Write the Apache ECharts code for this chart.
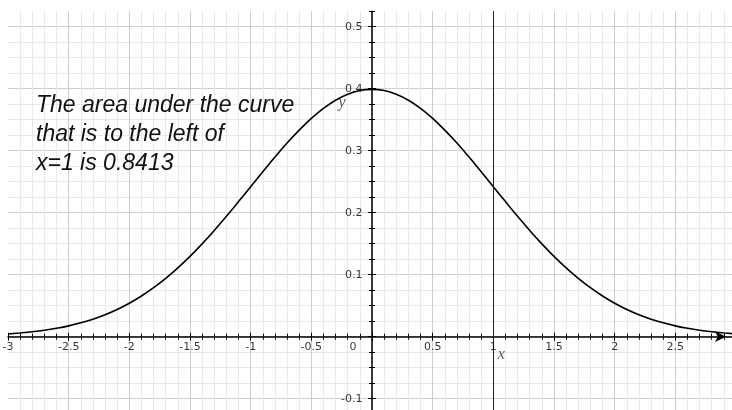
<!DOCTYPE html>
<html>
<head>
<meta charset="utf-8">
<script src="https://cdn.jsdelivr.net/npm/echarts@6/dist/echarts.min.js"></script>
<style>
  html, body { margin: 0; padding: 0; background: #ffffff; }
  #chart { width: 732px; height: 410px; }
</style>
</head>
<body>
<div id="chart"></div>
<script>
// Standard normal density curve, sampled every 0.1 on [-3, 3]
const xValues = [
  -3.0, -2.9, -2.8, -2.7, -2.6, -2.5, -2.4, -2.3, -2.2, -2.1,
  -2.0, -1.9, -1.8, -1.7, -1.6, -1.5, -1.4, -1.3, -1.2, -1.1,
  -1.0, -0.9, -0.8, -0.7, -0.6, -0.5, -0.4, -0.3, -0.2, -0.1,
  0.0,
  0.1, 0.2, 0.3, 0.4, 0.5, 0.6, 0.7, 0.8, 0.9, 1.0,
  1.1, 1.2, 1.3, 1.4, 1.5, 1.6, 1.7, 1.8, 1.9, 2.0,
  2.1, 2.2, 2.3, 2.4, 2.5, 2.6, 2.7, 2.8, 2.9, 3.0
];
const densityValues = [
  0.0044, 0.0060, 0.0079, 0.0104, 0.0136, 0.0175, 0.0224, 0.0283, 0.0355, 0.0440,
  0.0540, 0.0656, 0.0790, 0.0940, 0.1109, 0.1295, 0.1497, 0.1714, 0.1942, 0.2179,
  0.2420, 0.2661, 0.2897, 0.3123, 0.3332, 0.3521, 0.3683, 0.3814, 0.3910, 0.3970,
  0.3989,
  0.3970, 0.3910, 0.3814, 0.3683, 0.3521, 0.3332, 0.3123, 0.2897, 0.2661, 0.2420,
  0.2179, 0.1942, 0.1714, 0.1497, 0.1295, 0.1109, 0.0940, 0.0790, 0.0656, 0.0540,
  0.0440, 0.0355, 0.0283, 0.0224, 0.0175, 0.0136, 0.0104, 0.0079, 0.0060, 0.0044
];

// Tick labels on both axes
const xTickLabels = [-3, -2.5, -2, -1.5, -1, -0.5, 0, 0.5, 1, 1.5, 2, 2.5, 3];
const yTickLabels = [-0.1, 0.1, 0.2, 0.3, 0.4, 0.5];

// Vertical marker at x = 1
const markerX = 1;

// Axis name letters and the points they sit next to
const axisNames = ['x', 'y'];
const axisNameX = [1, 0];
const axisNameY = [0, 0.4];

// Annotation text
const noteLines = ['The area under the curve', 'that is to the left of', 'x=1 is 0.8413'];

const X_MIN = -3, X_MAX = 3;
const Y_MIN = -0.125, Y_MAX = 0.525;
const GRID_MINOR = '#e9e9e9';
const GRID_MAJOR = '#cdcdcd';
const INK = '#000000';
const LABEL_FONT = { fontFamily: 'DejaVu Sans', fontSize: 11, color: '#000000' };
const CLEAR = 'rgba(0,0,0,0)';

function hiddenLine() {
  return { show: false, onZero: true, onZeroAxisIndex: 0 };
}

// x axes: [0] line, minor ticks below, grid; [1] minor ticks above;
// [2] major ticks below; [3] major ticks above
const xAxes = [
  {
    type: 'value', min: X_MIN, max: X_MAX, interval: 0.1, position: 'bottom',
    axisLine: {
      show: true, onZero: true, onZeroAxisIndex: 0,
      lineStyle: { color: INK, width: 1.5 },
      symbol: ['none', 'arrow'], symbolSize: [8, 11], symbolOffset: [0, -10]
    },
    axisTick: { show: true, length: 3, lineStyle: { color: INK, width: 1 } },
    axisLabel: { show: false },
    splitLine: {
      show: true, showMinLine: false, showMaxLine: false,
      lineStyle: { color: [GRID_MINOR, GRID_MINOR, GRID_MINOR, GRID_MINOR, GRID_MAJOR], width: 1 }
    }
  },
  {
    type: 'value', min: X_MIN, max: X_MAX, interval: 0.1, position: 'top',
    axisLine: hiddenLine(),
    axisTick: { show: true, length: 3, lineStyle: { color: INK, width: 1 } },
    axisLabel: { show: false }, splitLine: { show: false }
  },
  {
    type: 'value', min: X_MIN, max: X_MAX, interval: 0.1, position: 'bottom',
    axisLine: hiddenLine(),
    axisTick: { show: true, length: 4, customValues: xTickLabels, lineStyle: { color: INK, width: 1 } },
    axisLabel: { show: false }, splitLine: { show: false }
  },
  {
    type: 'value', min: X_MIN, max: X_MAX, interval: 0.1, position: 'top',
    axisLine: hiddenLine(),
    axisTick: { show: true, length: 4, customValues: xTickLabels, lineStyle: { color: INK, width: 1 } },
    axisLabel: { show: false }, splitLine: { show: false }
  }
];

const yMajorTicks = [-0.1, 0, 0.1, 0.2, 0.3, 0.4, 0.5];

const yAxes = [
  {
    type: 'value', min: Y_MIN, max: Y_MAX, interval: 0.025, position: 'left',
    axisLine: { show: true, onZero: true, onZeroAxisIndex: 0, lineStyle: { color: INK, width: 1.5 } },
    axisTick: { show: true, length: 3, lineStyle: { color: INK, width: 1 } },
    axisLabel: { show: false },
    splitLine: {
      show: true, showMaxLine: false,
      lineStyle: { color: [GRID_MINOR, GRID_MAJOR, GRID_MINOR, GRID_MINOR], width: 1 }
    }
  },
  {
    type: 'value', min: Y_MIN, max: Y_MAX, interval: 0.025, position: 'right',
    axisLine: hiddenLine(),
    axisTick: { show: true, length: 3, lineStyle: { color: INK, width: 1 } },
    axisLabel: { show: false }, splitLine: { show: false }
  },
  {
    type: 'value', min: Y_MIN, max: Y_MAX, interval: 0.025, position: 'left',
    axisLine: hiddenLine(),
    axisTick: { show: true, length: 4, customValues: yMajorTicks, lineStyle: { color: INK, width: 1 } },
    axisLabel: { show: false }, splitLine: { show: false }
  },
  {
    type: 'value', min: Y_MIN, max: Y_MAX, interval: 0.025, position: 'right',
    axisLine: hiddenLine(),
    axisTick: { show: true, length: 4, customValues: yMajorTicks, lineStyle: { color: INK, width: 1 } },
    axisLabel: { show: false }, splitLine: { show: false }
  }
];

const curveData = xValues.map((x, i) => [x, densityValues[i]]);
const nameData = axisNames.map((n, i) => ({ name: n, value: [axisNameX[i], axisNameY[i]] }));
const nameOffsets = [[8, 18], [-30, 14]];

// Tick numbers sit along the axes that cross at the origin;
// the origin's "0" is nudged left of the vertical axis
const xLabelData = xTickLabels.map(v => {
  const item = { name: String(v), value: [v, 0] };
  if (v === 0) item.label = { offset: [-19, 0] };
  return item;
});
const yLabelData = yTickLabels.map(v => ({ name: v.toFixed(1), value: [0, v] }));

function tickTextSeries(data, position, distance) {
  return {
    type: 'scatter',
    xAxisIndex: 0, yAxisIndex: 0,
    data: data,
    symbolSize: 1,
    itemStyle: { color: CLEAR },
    silent: true,
    clip: false,
    z: 6,
    label: {
      show: true, position: position, distance: distance,
      formatter: p => p.name,
      ...LABEL_FONT
    }
  };
}

const chart = echarts.init(document.getElementById('chart'), null, { renderer: 'canvas' });
chart.setOption({
  animation: false,
  backgroundColor: '#ffffff',
  title: {
    text: noteLines.join('\n'),
    left: 36, top: 91, padding: 0,
    textStyle: {
      fontFamily: 'Liberation Sans', fontStyle: 'italic', fontWeight: 'normal',
      fontSize: 23, lineHeight: 29, color: '#111111'
    }
  },
  grid: { left: 8, right: -4, top: 11.2, bottom: -4.2, outerBoundsMode: 'none', containLabel: false },
  xAxis: xAxes,
  yAxis: yAxes,
  series: [
    {
      type: 'line',
      xAxisIndex: 0, yAxisIndex: 0,
      data: curveData,
      smooth: 0.4,
      showSymbol: false,
      lineStyle: { color: INK, width: 1.6 },
      z: 4,
      markLine: {
        silent: true,
        symbol: ['none', 'none'],
        label: { show: false },
        lineStyle: { color: '#222222', width: 1, type: 'solid' },
        data: [{ xAxis: markerX }]
      }
    },
    {
      type: 'scatter',
      xAxisIndex: 0, yAxisIndex: 0,
      data: nameData,
      symbolSize: 1,
      itemStyle: { color: CLEAR },
      silent: true,
      z: 5,
      label: {
        show: true,
        position: 'inside',
        formatter: p => p.name,
        fontFamily: 'Liberation Serif', fontStyle: 'italic',
        fontSize: 16, color: '#333333'
      },
      labelLayout: p => ({ dx: nameOffsets[p.dataIndex][0], dy: nameOffsets[p.dataIndex][1] })
    },
    tickTextSeries(xLabelData, 'bottom', 4),
    tickTextSeries(yLabelData, 'left', 9)
  ]
});
</script>
</body>
</html>
